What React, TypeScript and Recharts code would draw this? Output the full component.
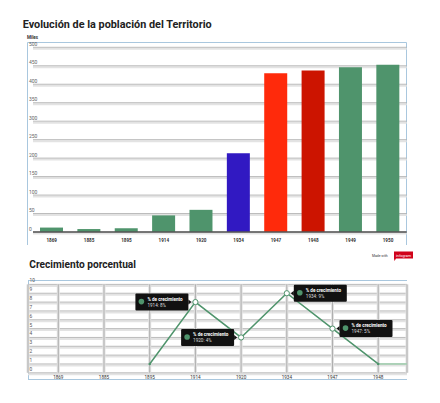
import React from 'react';
import { BarChart, Bar, XAxis, YAxis, CartesianGrid, Cell, LineChart, Line, ReferenceLine } from 'recharts';

const YEARS = ['1869', '1885', '1895', '1914', '1920', '1934', '1947', '1948', '1949', '1950'];
const POPULATION = [12, 8, 10, 45, 60, 213, 430, 437, 446, 453];
const POP_TICKS = [0, 50, 100, 150, 200, 250, 300, 350, 400, 450, 500];

const GROWTH_YEARS = ['1869', '1885', '1895', '1914', '1920', '1934', '1947', '1948'];
const GROWTH = [null, null, 1, 8, 4, 9, 5, 1];
const GROWTH_TICKS = [0, 1, 2, 3, 4, 5, 6, 7, 8, 9, 10];
const CALLOUT_YEARS = ['1914', '1920', '1934', '1947'];

const GREEN = '#4f946c';
const BAR_COLORS = [GREEN, GREEN, GREEN, GREEN, GREEN, '#3119c2', '#ff2a0b', '#cc1400', GREEN, GREEN];
const BORDER = '#a9c7de';
const FONT = 'Roboto, "DejaVu Sans", sans-serif';

const popData = YEARS.map((year, i) => ({ year, value: POPULATION[i] }));
const growthData = GROWTH_YEARS.map((year, i) => ({ idx: i, year, value: GROWTH[i] }));
const X_MIN = -0.663;
const X_MAX = GROWTH_YEARS.length - 1 + 0.63;
const lastIdx = GROWTH.length - 1;

// grid line with the soft grey shadow under it, like infogram draws
const doubleLine = (p: any) => (
  <g key={p.key}>
    <line x1={p.x1} x2={p.x2} y1={p.y1 + 1.5} y2={p.y2 + 1.5} stroke="#e3e3e3" strokeWidth={2} />
    <line x1={p.x1} x2={p.x2} y1={p.y1} y2={p.y2} stroke="#a9a9a9" strokeWidth={0.8} />
  </g>
);

const vLine = (p: any) => (
  <g key={p.key}>
    <line x1={p.x1} x2={p.x2} y1={p.y1} y2={p.y2} stroke="#e2e2e2" strokeWidth={3} />
    <line x1={p.x1} x2={p.x2} y1={p.y1} y2={p.y2} stroke="#9a9a9a" strokeWidth={0.7} />
  </g>
);

const PopYTick = ({ y, payload }: any) => (
  <text x={29} y={y - 1.5} fontSize={5} fill="#666" fontFamily={FONT}>{payload.value}</text>
);

const PopXTick = ({ x, y, payload }: any) => (
  <text x={x} y={y + 2} fontSize={4.6} fontWeight={700} fill="#333" textAnchor="middle" fontFamily={FONT}>{payload.value}</text>
);

const GrowthYTick = ({ y, payload }: any) => (
  <text x={29.5} y={y - 2} fontSize={4.8} fill="#555" fontFamily={FONT}>{payload.value}</text>
);

const GrowthXTick = ({ x, y, payload }: any) => (
  <text x={x} y={y - 2} fontSize={4.6} fill="#333" textAnchor="middle" fontFamily={FONT}>
    {GROWTH_YEARS[payload.value]}
  </text>
);

const GrowthDot = ({ cx, cy, payload }: any) => {
  if (cy == null || payload.value == null) return null;
  if (CALLOUT_YEARS.includes(payload.year)) {
    return <circle key={payload.year} cx={cx} cy={cy} r={2.6} fill="#fff" stroke={GREEN} strokeWidth={1} />;
  }
  return <circle key={payload.year} cx={cx} cy={cy} r={1.3} fill={GREEN} />;
};

const Callout = ({ x, y, index }: any) => {
  const d = growthData[index];
  if (!d || !CALLOUT_YEARS.includes(d.year)) return null;
  const w = 53;
  const h = 17;
  // boxes before the peak sit on the left of the point, the rest on the right
  const left = d.year === '1914' || d.year === '1920';
  const bx = left ? x - 7 - w : x + 7;
  const by = y - h / 2;
  const arrow = left
    ? `${x - 7},${y - 2.5} ${x - 4},${y} ${x - 7},${y + 2.5}`
    : `${x + 7},${y - 2.5} ${x + 4},${y} ${x + 7},${y + 2.5}`;
  return (
    <g>
      <rect x={bx} y={by} width={w} height={h} rx={1} fill="#111" />
      <polygon points={arrow} fill="#111" />
      <circle cx={bx + 6} cy={y - 0.5} r={2.8} fill={GREEN} />
      <text x={bx + 12} y={y - 1.5} fontSize={4.6} fontWeight={700} fill="#fff" fontFamily={FONT}>% de crecimiento</text>
      <text x={bx + 12} y={y + 4.8} fontSize={4.6} fill="#ddd" fontFamily={FONT}>{`${d.year}: ${d.value}%`}</text>
    </g>
  );
};

export default function App() {
  return (
    <div style={{ position: 'absolute', left: 0, top: 0, width: 440, height: 403, background: '#fff', overflow: 'hidden' }}>
      <svg width={440} height={403} style={{ position: 'absolute', left: 0, top: 0 }}>
        <text x={22.7} y={28.3} fontSize={11.5} fontWeight={700} fill="#222" fontFamily={FONT}
          textLength={189} lengthAdjust="spacingAndGlyphs">Evolución de la población del Territorio</text>
        <text x={27} y={38.5} fontSize={4.5} fontWeight={700} fill="#333" fontFamily={FONT}>Miles</text>
        <polyline points="27.5,245 27.5,42.5 406.5,42.5 406.5,245" fill="none" stroke={BORDER} strokeWidth={1} />

        <text x={29.3} y={268.3} fontSize={11} fontWeight={700} fill="#222" fontFamily={FONT}
          textLength={106.7} lengthAdjust="spacingAndGlyphs">Crecimiento porcentual</text>
        <line x1={28} x2={407} y1={280.5} y2={280.5} stroke={BORDER} strokeWidth={1.2} />
        <line x1={28} x2={407} y1={379.5} y2={379.5} stroke={BORDER} strokeWidth={1.2} />
        <line x1={28.5} x2={28.5} y1={280} y2={380} stroke={BORDER} strokeWidth={1} />

        <text x={372} y={257} fontSize={3.4} fill="#333" fontFamily={FONT}>Made with</text>
        <polygon points="394,251.5 413,251.5 413,258.5 396,258.5 394.5,261 394,258.5" fill="#d0021b" />
        <text x={403.5} y={256.6} fontSize={3.8} fill="#fff" textAnchor="middle" fontFamily={FONT}>infogram</text>
      </svg>

      <div style={{ position: 'absolute', left: 0, top: 0 }}>
        <BarChart width={440} height={403} data={popData} margin={{ top: 47.3, right: 33.3, bottom: 170, left: 32 }} barSize={23}>
          <CartesianGrid vertical={false} horizontal={doubleLine} />
          <YAxis domain={[0, 500]} ticks={POP_TICKS} width={1} interval={0} axisLine={false} tickLine={false} tick={<PopYTick />} />
          <XAxis dataKey="year" height={1} axisLine={{ stroke: '#555', strokeWidth: 1.3 }} tickLine={false} tick={<PopXTick />} interval={0} />
          <Bar dataKey="value" isAnimationActive={false}>
            {popData.map((d, i) => <Cell key={d.year} fill={BAR_COLORS[i]} />)}
          </Bar>
        </BarChart>
      </div>

      <div style={{ position: 'absolute', left: 0, top: 0 }}>
        <LineChart width={440} height={403} data={growthData} margin={{ top: 284.4, right: 33, bottom: 29.2, left: 27 }}>
          <CartesianGrid horizontal={doubleLine} vertical={vLine} />
          <XAxis type="number" dataKey="idx" height={1} domain={[X_MIN, X_MAX]} allowDataOverflow ticks={GROWTH_YEARS.map((_, i) => i)}
            axisLine={false} tickLine={false} tick={<GrowthXTick />} interval={0} />
          <YAxis domain={[0, 10]} ticks={GROWTH_TICKS} width={1} interval={0} axisLine={false} tickLine={false} tick={<GrowthYTick />} />
          <ReferenceLine segment={[{ x: lastIdx, y: GROWTH[lastIdx] as number }, { x: X_MAX, y: GROWTH[lastIdx] as number }]}
            stroke="#9fcfae" strokeWidth={1.5} />
          <Line type="linear" dataKey="value" stroke={GREEN} strokeWidth={1.5} dot={<GrowthDot />} connectNulls={false}
            isAnimationActive={false} label={<Callout />} />
        </LineChart>
      </div>
    </div>
  );
}
